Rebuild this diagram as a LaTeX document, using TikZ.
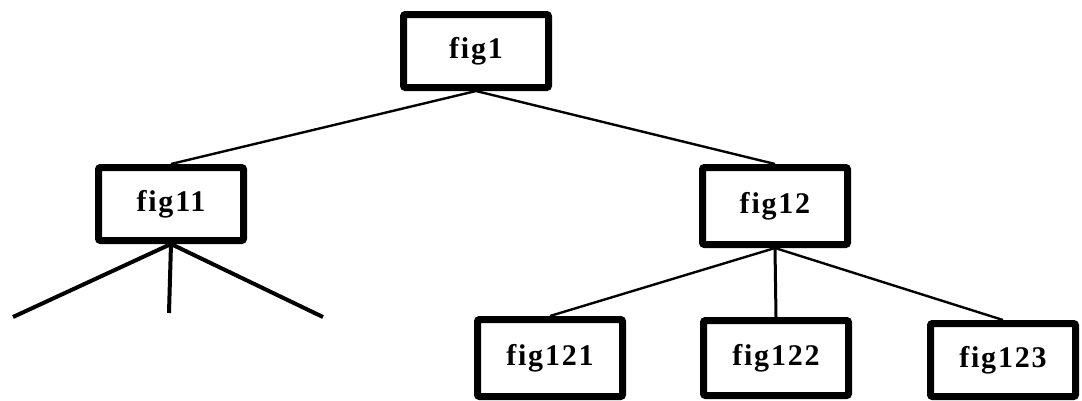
\documentclass[tikz,border=0pt]{standalone}
\usepackage{fontspec}
\newfontfamily\labelfont[LetterSpace=6]{Liberation Serif}
\tikzset{
  figbox/.style={draw,line width=7pt,rounded corners=2pt,minimum width=145pt,
    minimum height=73pt,inner sep=0pt,font=\labelfont\bfseries\fontsize{30}{34}\selectfont},
  branch/.style={line width=2.4pt},
  leaf/.style={line width=4pt}
}
\begin{document}
\begin{tikzpicture}[x=1pt,y=-1pt]
                \useasboundingbox (0,0) rectangle (1082,400);
                \node[figbox] (fig1) at (476,51) {fig1};
                \node[figbox] (fig11) at (171,204) {fig11};
                \node[figbox,minimum height=77pt] (fig12) at (775,206) {fig12};
                \node[figbox,minimum height=77pt] (fig121) at (550,358) {fig121};
                \node[figbox,minimum height=75pt] (fig122) at (776,358) {fig122};
                \node[figbox] (fig123) at (1003,360) {fig123};
                \coordinate (leafa) at (13,317);
                \coordinate (leafb) at (169,313);
                \coordinate (leafc) at (323,317);
                \draw[branch] (fig1.south) -- (fig11.north);
                \draw[branch] (fig1.south) -- (fig12.north);
                \draw[leaf] (fig11.south) -- (leafa);
                \draw[leaf] (fig11.south) -- (leafb);
                \draw[leaf] (fig11.south) -- (leafc);
                \draw[branch] (fig12.south) -- (fig121.north);
                \draw[line width=3pt] (fig12.south) -- (fig122.north);
                \draw[branch] (fig12.south) -- (fig123.north);
            \end{tikzpicture}
\end{document}
